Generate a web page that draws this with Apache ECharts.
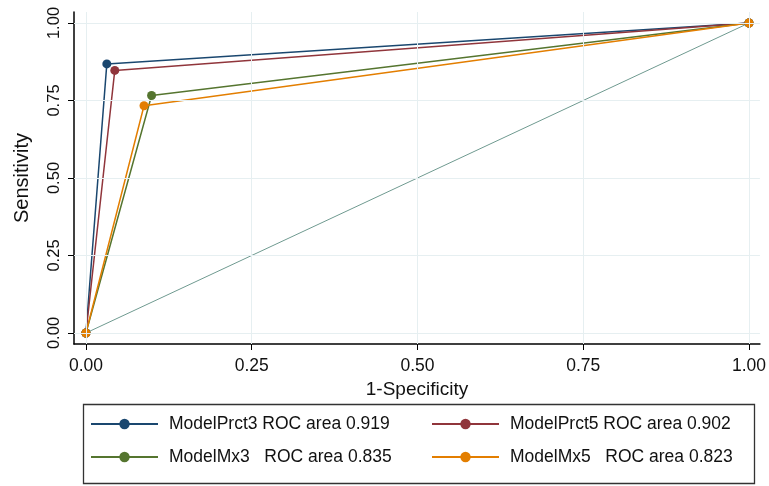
<!DOCTYPE html>
<html><head><meta charset="utf-8">
<script src="https://cdn.jsdelivr.net/npm/echarts@6/dist/echarts.min.js"></script>
<style>html,body{margin:0;padding:0;background:#fff}#c{width:769px;height:486px}</style>
</head><body><div id="c"></div>
<script>
const seriesNames = ['ModelPrct3 ROC area 0.919', 'ModelPrct5 ROC area 0.902', 'ModelMx3   ROC area 0.835', 'ModelMx5   ROC area 0.823'];
const prct3 = [[0, 0], [0.0315, 0.868], [1, 1]];
const prct5 = [[0, 0], [0.0435, 0.847], [1, 1]];
const mx3 = [[0, 0], [0.099, 0.766], [1, 1]];
const mx5 = [[0, 0], [0.0876, 0.733], [1, 1]];
const refLine = [[0, 0], [1, 1]];
const tickValues = [0, 0.25, 0.5, 0.75, 1];
const tickLabels = ['0.00', '0.25', '0.50', '0.75', '1.00'];
const colors = ['#1a476f', '#90353b', '#55752f', '#e37e00'];

const chart = echarts.init(document.getElementById('c'));
const font = 'Liberation Sans, Arial, sans-serif';
function mk(name, data, color) {
  return { name, type: 'line', data, color, symbol: 'circle', symbolSize: 9,
    lineStyle: { width: 1.5, color }, itemStyle: { color }, z: 3, animation: false };
}
const fmt = v => { const i = tickValues.findIndex(t => Math.abs(t - v) < 1e-9); return i >= 0 ? tickLabels[i] : ''; };
const legendText = { fontFamily: font, fontSize: 17.5, color: '#111', lineHeight: 20, padding: [0, 0, 0, 6] };
chart.setOption({
  animation: false,
  grid: { left: 74, right: 6, top: 12, bottom: 142 },
  xAxis: {
    type: 'value', min: -0.018, max: 1.0165,
    name: '1-Specificity', nameLocation: 'middle', nameGap: 33,
    nameTextStyle: { fontFamily: font, fontSize: 19, color: '#111' },
    axisLine: { show: true, onZero: false, lineStyle: { color: '#000', width: 1.5 } },
    axisTick: { show: true, length: 6, lineStyle: { color: '#000' }, customValues: tickValues },
    axisLabel: { customValues: tickValues, formatter: fmt, fontFamily: font, fontSize: 17.5, color: '#111', margin: 13 },
    splitLine: { show: false }
  },
  yAxis: {
    type: 'value', min: -0.0355, max: 1.0355,
    name: 'Sensitivity', nameLocation: 'middle', nameGap: 42,
    nameTextStyle: { fontFamily: font, fontSize: 20, color: '#111' },
    axisLine: { show: true, onZero: false, lineStyle: { color: '#000', width: 1.5 } },
    axisTick: { show: true, length: 6, lineStyle: { color: '#000' }, customValues: tickValues },
    axisLabel: { customValues: tickValues, formatter: fmt, rotate: 90, fontFamily: font, fontSize: 16.5, color: '#111', margin: 11, align: 'center', verticalAlign: 'bottom' },
    splitLine: { show: false }
  },
  legend: [
    { data: [seriesNames[0], seriesNames[2]], orient: 'vertical', left: 90, top: 414, padding: 0,
      itemWidth: 67, itemHeight: 13, itemGap: 13, textStyle: legendText },
    { data: [seriesNames[1], seriesNames[3]], orient: 'vertical', left: 431, top: 414, padding: 0,
      itemWidth: 67, itemHeight: 13, itemGap: 13, textStyle: legendText }
  ],
  graphic: [{ type: 'rect', shape: { x: 83.5, y: 404.5, width: 671, height: 79 }, style: { fill: 'none', stroke: '#333', lineWidth: 1.3 }, silent: true }],
  series: [
    { name: 'grid', type: 'line', data: [], silent: true, z: 1,
      markLine: { silent: true, symbol: 'none', label: { show: false },
        lineStyle: { color: '#e6eff1', width: 1, type: 'solid' },
        data: tickValues.map(v => ({ xAxis: v })).concat(tickValues.map(v => ({ yAxis: v }))) } },
    { name: 'ref', type: 'line', data: refLine, symbol: 'none', lineStyle: { width: 1, color: '#6f9a90' }, z: 2 },
    mk(seriesNames[0], prct3, colors[0]),
    mk(seriesNames[1], prct5, colors[1]),
    mk(seriesNames[2], mx3, colors[2]),
    mk(seriesNames[3], mx5, colors[3])
  ]
});
</script></body></html>
